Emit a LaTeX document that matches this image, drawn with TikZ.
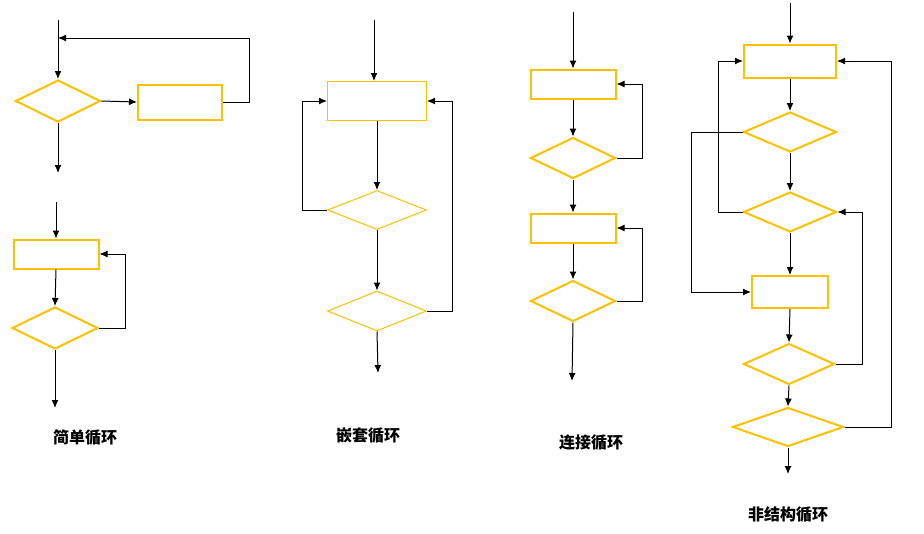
\documentclass[tikz,border=0pt]{standalone}
\usepackage{fontspec}
\newfontfamily\cjk{Noto Sans CJK SC}
\usetikzlibrary{shapes.geometric,arrows.meta}
\definecolor{gold}{HTML}{FFC000}
\begin{document}
\begin{tikzpicture}[x=1pt,y=-1pt,
  box/.style={draw=gold,line width=2pt,minimum width=85pt,minimum height=29pt,inner sep=0pt},
  cond/.style={diamond,draw=gold,line width=2pt,minimum width=85pt,minimum height=42pt,inner sep=0pt},
  slim/.style={line width=1pt},
  arr/.style={-{Latex[length=8pt,width=7pt]},line width=1pt},
  title/.style={font=\cjk\bfseries\fontsize{16}{18}\selectfont}]
  \useasboundingbox (0,0) rectangle (924,533);

  % simple loop, top
  \coordinate (s1) at (58,20);
  \coordinate (j1) at (58,38); % loop joins the entry line
  \coordinate (e1) at (58,173);
  \node[cond] (d1) at (58,101) {};
  \node[box, minimum width=84pt, minimum height=35pt] (r1) at (180,102) {};
  \draw[arr] (s1) -- (d1.north);
  \draw[arr] (d1.east) -- (r1.west);
  \draw[arr] (r1.east) -- ++(26,0) |- (j1);
  \draw[arr] (d1.south) -- (e1);

  % simple loop, bottom
  \coordinate (s2) at (56,202);
  \coordinate (e2) at (55,408);
  \node[box] (r2) at (56,254) {};
  \node[cond, minimum width=86pt] (d2) at (55,328) {};
  \draw[arr] (s2) -- (r2.north);
  \draw[arr] (r2.south) -- (d2.north);
  \draw[arr] (d2.east) -- ++(26,0) |- (r2.east);
  \draw[arr] (d2.south) -- (e2);
  \node[title] (t1) at (85,438) {简单循环};

  % nested loop
  \coordinate (s3) at (374,20);
  \coordinate (e3) at (378,373);
  \node[box, slim, minimum width=99pt, minimum height=39pt] (r3) at (377,101) {};
  \node[cond, slim, minimum width=99pt, minimum height=39pt] (d3) at (377,210) {};
  \node[cond, slim, minimum width=99pt, minimum height=40pt] (d4) at (377,311) {};
  \draw[arr] (s3) -- (s3 |- r3.north);
  \draw[arr] (r3.south) -- (d3.north);
  \draw[arr] (d3.west) -- ++(-25,0) |- (r3.west);
  \draw[arr] (d3.south) -- (d4.north);
  \draw[arr] (d4.east) -- ++(25,0) |- (r3.east);
  \draw[arr] (d4.south) -- (e3);
  \node[title] (t2) at (368,436) {嵌套循环};

  % concatenated loops
  \coordinate (s4) at (573,12);
  \coordinate (e4) at (572,381);
  \node[box] (r4) at (573,84) {};
  \node[cond, minimum height=41pt] (d5) at (573,158) {};
  \node[box] (r5) at (573,228) {};
  \node[cond, minimum height=41pt] (d6) at (573,301) {};
  \draw[arr] (s4) -- (r4.north);
  \draw[arr] (r4.south) -- (d5.north);
  \draw[arr] (d5.east) -- ++(26,0) |- (r4.east);
  \draw[arr] (d5.south) -- (r5.north);
  \draw[arr] (r5.south) -- (d6.north);
  \draw[arr] (d6.east) -- ++(26,0) |- (r5.east);
  \draw[arr] (d6.south) -- (e4);
  \node[title] (t3) at (591,443) {连接循环};

  % unstructured loops
  \coordinate (s5) at (790,3);
  \coordinate (e5) at (788,474);
  \node[box, minimum width=92pt, minimum height=33pt] (r6) at (790,61) {};
  \node[cond, minimum width=93pt, minimum height=40pt] (d7) at (790,132) {};
  \node[cond, minimum width=93pt, minimum height=40pt] (d8) at (790,212) {};
  \node[box, minimum width=76pt, minimum height=32pt] (r7) at (790,292) {};
  \node[cond, minimum width=91pt, minimum height=41pt] (d9) at (789,364) {};
  \node[cond, minimum width=111pt, minimum height=39pt] (d10) at (788,427) {};
  \draw[arr] (s5) -- (r6.north);
  \draw[arr] (r6.south) -- (d7.north);
  \draw[arr] (d7.south) -- (d8.north);
  \draw[arr] (d8.south) -- (r7.north);
  \draw[arr] (r7.south) -- (d9.north);
  \draw[arr] (d9.south) -- (d10.north);
  \draw[arr] (d10.south) -- (e5);
  \draw[arr] (d7.west) -- ++(-51,0) |- (r7.west);
  \draw[arr] (d8.west) -- ++(-24,0) |- (r6.west);
  \draw[arr] (d9.east) -- ++(27,0) |- (d8.east);
  \draw[arr] (d10.east) -- ++(47,0) |- (r6.east);
  \node[title] (t4) at (788,515) {非结构循环};
\end{tikzpicture}
\end{document}
